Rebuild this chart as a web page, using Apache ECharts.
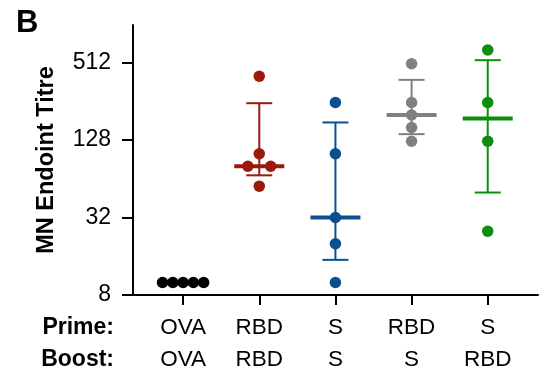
<!DOCTYPE html>
<html>
<head>
<meta charset="utf-8">
<script src="https://cdn.jsdelivr.net/npm/echarts@6/dist/echarts.min.js"></script>
<style>html,body{margin:0;padding:0;background:#fff;}#c{width:550px;height:377px;}</style>
</head>
<body>
<div id="c"></div>
<script>
// ---- data ----
const primeLabels = ['OVA', 'RBD', 'S', 'RBD', 'S'];
const boostLabels = ['OVA', 'RBD', 'S', 'S', 'RBD'];
const groupColors = ['#000000', '#9b1a0b', '#0b4f8f', '#808080', '#0b8f0b'];
const titresOVA = [10, 10, 10, 10, 10];
const titresRBD_RBD = [400, 100, 80, 80, 56];
const titresS_S = [250, 100, 32, 20, 10];
const titresRBD_S = [500, 250, 200, 160, 125];
const titresS_RBD = [640, 250, 125, 25];
// horizontal spread of overlapping dots (category units)
const jitterOVA = [-0.27, -0.135, 0, 0.135, 0.27];
const jitterRBD_RBD = [0, 0, -0.15, 0.15, 0];
const jitterS_S = [0, 0, 0, 0, 0];
const jitterRBD_S = [0, 0, 0, 0, 0];
const jitterS_RBD = [0, 0, 0, 0];
// median and interquartile range per group
const medians = [10, 80, 32, 200, 188];
const q1 = [10, 68, 15, 142, 50];
const q3 = [10, 247, 175, 375, 533];
const yTicks = [8, 32, 128, 512];

const groups = [
  [titresOVA, jitterOVA], [titresRBD_RBD, jitterRBD_RBD], [titresS_S, jitterS_S],
  [titresRBD_S, jitterRBD_S], [titresS_RBD, jitterS_RBD]
];

const FONT = '"Liberation Sans", Arial, Helvetica, sans-serif';
const chart = echarts.init(document.getElementById('c'), null, {renderer: 'canvas'});

const series = [];
groups.forEach((g, i) => {
  series.push({
    type: 'custom',
    z: 2,
    clip: false,
    encode: {x: 0, y: [1, 2, 3]},
    data: [[i + 1, medians[i], q1[i], q3[i]]],
    renderItem: (params, api) => {
      const x = api.value(0);
      const pm = api.coord([x, api.value(1)]);
      const pl = api.coord([x, api.value(2)]);
      const ph = api.coord([x, api.value(3)]);
      const c = groupColors[i];
      const st = {stroke: c, lineWidth: 2, fill: null};
      return {
        type: 'group',
        children: [
          {type: 'line', shape: {x1: pl[0], y1: pl[1], x2: ph[0], y2: ph[1]}, style: st},
          {type: 'line', shape: {x1: pl[0] - 13, y1: pl[1], x2: pl[0] + 13, y2: pl[1]}, style: st},
          {type: 'line', shape: {x1: ph[0] - 13, y1: ph[1], x2: ph[0] + 13, y2: ph[1]}, style: st},
          {type: 'line', shape: {x1: pm[0] - 25, y1: pm[1], x2: pm[0] + 25, y2: pm[1]}, style: {stroke: c, lineWidth: 4}}
        ]
      };
    }
  });
  series.push({
    type: 'scatter',
    z: 3,
    symbol: 'circle',
    symbolSize: 11.5,
    itemStyle: {color: groupColors[i], opacity: 1},
    data: g[0].map((v, k) => [i + 1 + g[1][k], v])
  });
});

chart.setOption({
  animation: false,
  backgroundColor: '#ffffff',
  grid: {left: 133, right: 12, top: 25, bottom: 82, containLabel: false},
  xAxis: {
    type: 'value', min: 0.342, max: 5.66,
    splitLine: {show: false},
    axisLine: {show: true, lineStyle: {color: '#000', width: 2}},
    axisTick: {show: true, length: 10, lineStyle: {color: '#000', width: 2}, customValues: [1, 2, 3, 4, 5]},
    axisLabel: {
      customValues: [1, 2, 3, 4, 5],
      margin: 17,
      color: '#000', fontFamily: FONT, fontSize: 22.5, lineHeight: 32,
      formatter: v => primeLabels[Math.round(v) - 1] + '\n' + boostLabels[Math.round(v) - 1]
    }
  },
  yAxis: {
    type: 'log', logBase: 2, min: 8, max: 1000,
    name: 'MN Endoint Titre', nameLocation: 'middle', nameGap: 74, nameRotate: 90,
    nameTextStyle: {color: '#000', fontFamily: FONT, fontSize: 23.5, fontWeight: 'bold'},
    splitLine: {show: false},
    axisLine: {show: true, lineStyle: {color: '#000', width: 2}},
    axisTick: {show: true, length: 11, lineStyle: {color: '#000', width: 2}, customValues: yTicks},
    axisLabel: {customValues: yTicks, margin: 22, color: '#000', fontFamily: FONT, fontSize: 23}
  },
  graphic: [
    {type: 'text', left: 16, top: 8, style: {text: 'B', font: 'bold 31px ' + FONT, fill: '#000'}},
    {type: 'text', x: 114, y: 328, style: {text: 'Prime:', font: 'bold 23px ' + FONT, fill: '#000', align: 'right', verticalAlign: 'middle'}},
    {type: 'text', x: 114, y: 360, style: {text: 'Boost:', font: 'bold 23px ' + FONT, fill: '#000', align: 'right', verticalAlign: 'middle'}}
  ],
  series: series
});
</script>
</body>
</html>
